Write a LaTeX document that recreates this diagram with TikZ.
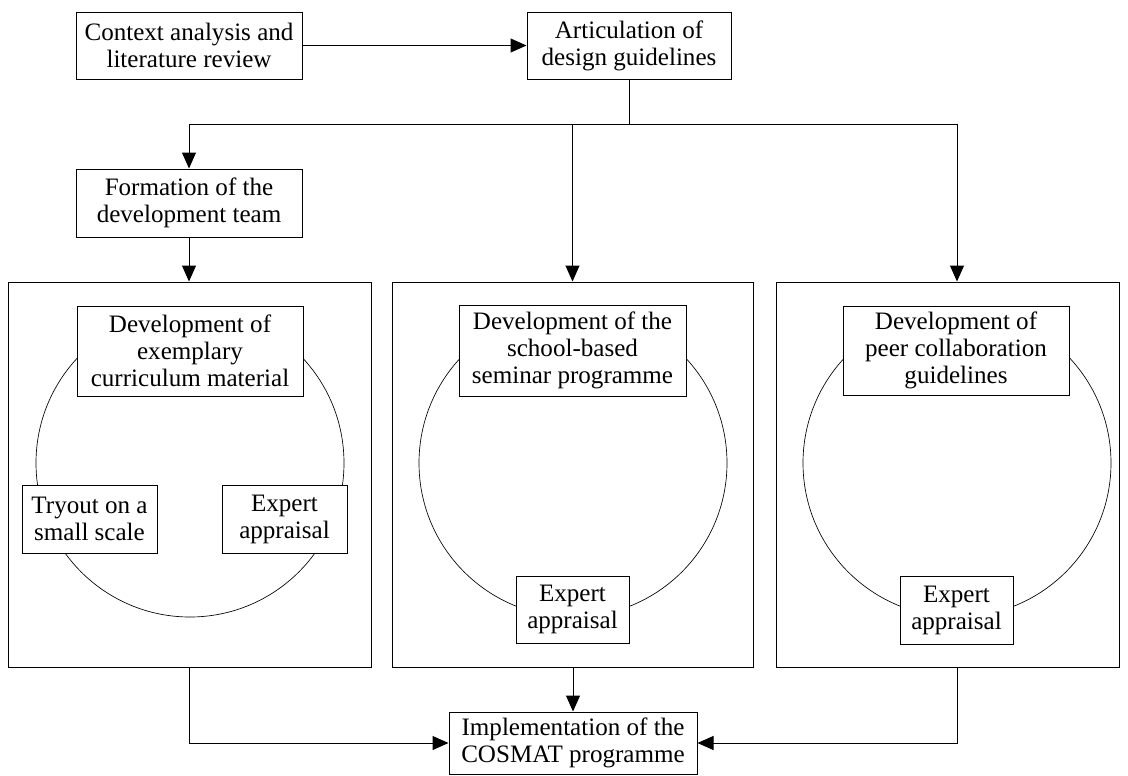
\documentclass[tikz,border=0pt]{standalone}
\usepackage{fontspec}
\setmainfont{Liberation Serif}
\usetikzlibrary{arrows.meta}
\begin{document}
\begin{tikzpicture}[x=0.75pt,y=-0.75pt,
  box/.style={draw, fill=white, line width=0.75pt, align=center, inner sep=0pt,
              font=\fontsize{18.8}{20.25}\selectfont},
  sz/.style 2 args={minimum width={#1*0.75pt}, minimum height={#2*0.75pt}},
  frame/.style={draw, line width=0.75pt, inner sep=0pt},
  ring/.style={draw, line width=0.5pt},
  link/.style={line width=0.75pt},
  arr/.style={link, -{Triangle[length=12pt,width=10.5pt]}}]
\useasboundingbox (0,0) rectangle (1128,775);

% cycle rings behind each stage
\coordinate (c1) at (190,463);
\coordinate (c2) at (573,463);
\coordinate (c3) at (957,463);
\draw[ring] (c1) circle[radius=154];
\draw[ring] (c2) circle[radius=154];
\draw[ring] (c3) circle[radius=154];

% stage frames
\node[frame, sz={363}{385}] (F1) at (189.5,474.5) {};
\node[frame, sz={361}{385}] (F2) at (572.5,474.5) {};
\node[frame, sz={343}{385}] (F3) at (947.5,474.5) {};

% top row
\node[box, sz={226}{67}] (ctx) at (189,45.5) {Context analysis and\\literature review};
\node[box, sz={204}{67}] (art) at (629,45.5) {Articulation of\\design guidelines};
\node[box, sz={226}{68}] (form) at (189,203) {Formation of the\\development team};

% stage 1
\node[box, sz={226}{90}] (dev1) at (190,351) {Development of\\exemplary\\curriculum material};
\node[box, sz={135}{68}] (try1) at (89.5,519) {Tryout on a\\small scale};
\node[box, sz={125}{68}] (exp1) at (284.5,519) {Expert\\appraisal};

% stage 2
\node[box, sz={227}{91}] (dev2) at (572.5,350.5) {Development of the\\school-based\\seminar programme};
\node[box, sz={113}{67}] (exp2) at (572.5,609.5) {Expert\\appraisal};

% stage 3
\node[box, sz={226}{89}] (dev3) at (956,350.5) {Development of\\peer collaboration\\guidelines};
\node[box, sz={113}{68}] (exp3) at (956.5,610) {Expert\\appraisal};

% final step
\node[box, sz={248}{62}] (impl) at (573,743) {Implementation of the\\COSMAT programme};

% connectors
\coordinate (split) at (629,124);
\draw[arr] (ctx) -- (art);
\draw[link] (art.south) -- (split);
\draw[arr] (split) -| (form.north);
\draw[arr] (split) -| (F3.north -| c3);
\draw[arr] (F2.north |- split) -- (F2.north);
\draw[arr] (form.south) -- (form.south |- F1.north);
\draw[arr] (F1.south) |- (impl.west);
\draw[arr] (F2.south -| impl.north) -- (impl.north);
\draw[arr] (F3.south -| c3) |- (impl.east);
\end{tikzpicture}
\end{document}
